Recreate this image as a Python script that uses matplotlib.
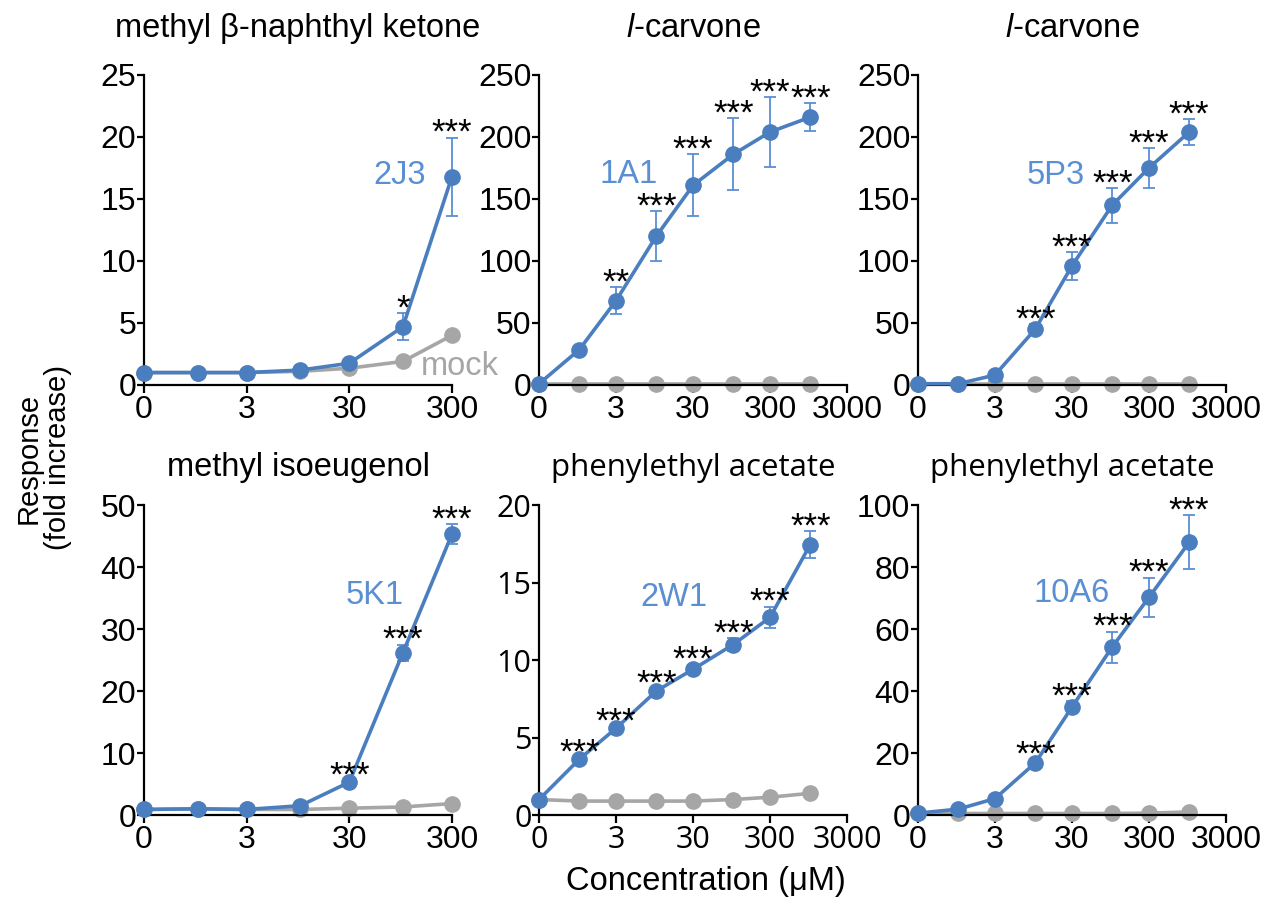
import numpy as np
import matplotlib
matplotlib.use('Agg')
import matplotlib.pyplot as plt

plt.rcParams['font.family'] = ['Liberation Sans', 'DejaVu Sans']
plt.rcParams['mathtext.fontset'] = 'custom'
plt.rcParams['mathtext.rm'] = 'Liberation Sans'
plt.rcParams['mathtext.it'] = 'Liberation Sans:italic'

# concentrations (uM); 0 is drawn one decade below 3
conc = [0, 1, 3, 10, 30, 100, 300, 1000]

titles = ['methyl β-naphthyl ketone', r'$\it{l}$-carvone', r'$\it{l}$-carvone',
          'methyl isoeugenol', 'phenylethyl acetate', 'phenylethyl acetate']
receptors = ['2J3', '1A1', '5P3', '5K1', '2W1', '10A6']
ymax = [25, 250, 250, 50, 20, 100]
ystep = [5, 50, 50, 10, 5, 20]
xmax = [300, 3000, 3000, 300, 3000, 3000]

# receptor responses (fold increase), SEM, mock responses, significance
resp_2j3 = [1.0, 1.0, 1.0, 1.2, 1.75, 4.7, 16.8]
err_2j3 = [0.1, 0.1, 0.1, 0.1, 0.2, 1.1, 3.15]
mock_2j3 = [1.0, 1.0, 1.0, 1.1, 1.35, 1.9, 4.0]
sig_2j3 = ['', '', '', '', '', '*', '***']

resp_1a1 = [1.0, 28.5, 68, 120, 161, 186, 204, 216]
err_1a1 = [0.5, 2, 11, 20, 25, 29, 28, 11.5]
mock_1a1 = [1.0, 1.0, 1.0, 1.0, 1.0, 1.0, 1.0, 1.0]
sig_1a1 = ['', '', '**', '***', '***', '***', '***', '***']

resp_5p3 = [1.0, 1.0, 8, 45, 96, 145, 175, 204]
err_5p3 = [0.5, 0.5, 1, 4, 11, 14, 16, 10.5]
mock_5p3 = [1.0, 1.0, 1.0, 1.0, 1.0, 1.0, 1.0, 1.0]
sig_5p3 = ['', '', '', '***', '***', '***', '***', '***']

resp_5k1 = [0.9, 1.0, 0.9, 1.5, 5.3, 26.2, 45.3]
err_5k1 = [0.1, 0.1, 0.1, 0.1, 0.3, 1.3, 1.6]
mock_5k1 = [0.9, 1.0, 0.9, 0.9, 1.1, 1.3, 1.85]
sig_5k1 = ['', '', '', '', '***', '***', '***']

resp_2w1 = [1.0, 3.6, 5.6, 8.0, 9.4, 11.0, 12.75, 17.45]
err_2w1 = [0.05, 0.1, 0.15, 0.2, 0.3, 0.4, 0.7, 0.85]
mock_2w1 = [1.0, 0.9, 0.9, 0.9, 0.9, 1.0, 1.15, 1.4]
sig_2w1 = ['', '***', '***', '***', '***', '***', '***', '***']

resp_10a6 = [0.6, 1.9, 5.3, 16.8, 34.8, 54.2, 70.2, 88.0]
err_10a6 = [0.2, 0.3, 0.5, 1.2, 2.0, 5.0, 6.4, 8.7]
mock_10a6 = [0.5, 0.5, 0.5, 0.5, 0.5, 0.5, 0.6, 1.0]
sig_10a6 = ['', '', '', '***', '***', '***', '***', '***']

resp = [resp_2j3, resp_1a1, resp_5p3, resp_5k1, resp_2w1, resp_10a6]
errs = [err_2j3, err_1a1, err_5p3, err_5k1, err_2w1, err_10a6]
mock = [mock_2j3, mock_1a1, mock_5p3, mock_5k1, mock_2w1, mock_10a6]
sigs = [sig_2j3, sig_1a1, sig_5p3, sig_5k1, sig_2w1, sig_10a6]

# layout / style
blue = '#4a7ebf'
blue_txt = '#5b8fd3'
gray = '#a6a6a6'
lefts = [0.1124, 0.4208, 0.7166]
bottoms = [0.5713, 0.0924]
W, H = 0.2404, 0.3452
label_pos = [(0.83, 0.675), (0.292, 0.68), (0.447, 0.675),
             (0.748, 0.708), (0.439, 0.703), (0.498, 0.714)]
title_pad = [27, 27, 27, 21, 21, 21]
segoe_like = [False, False, False, False, True, True]

fig = plt.figure(figsize=(12.81, 8.98), dpi=100)

for i in range(6):
    ax = fig.add_axes([lefts[i % 3], bottoms[i // 3], W, H])
    n = len(resp[i])
    x = np.array(conc[:n], dtype=float)
    x[x == 0] = 0.3

    ax.plot(x, mock[i], '-o', color=gray, lw=2.6, ms=11, clip_on=False, zorder=2)
    ax.errorbar(x, resp[i], yerr=errs[i], fmt='none', ecolor=blue_txt,
                elinewidth=1.3, capsize=4, capthick=1.3, clip_on=False, zorder=3)
    ax.plot(x, resp[i], '-o', color=blue, lw=2.6, ms=11, clip_on=False, zorder=4)

    for xi, yi, ei, s in zip(x, resp[i], errs[i], sigs[i]):
        if s:
            ax.annotate(s, (xi, yi + ei), xytext=(0, 3), textcoords='offset points',
                        ha='center', va='center', fontsize=25, zorder=5,
                        annotation_clip=False)

    ax.set_xscale('log')
    ax.set_xlim(0.3, xmax[i])
    ticks = [t for t in [0.3, 3, 30, 300, 3000] if t <= xmax[i]]
    ax.set_xticks(ticks)
    ax.set_xticklabels(['0' if t == 0.3 else str(int(t)) for t in ticks])
    ax.minorticks_off()
    ax.set_ylim(0, ymax[i])
    ax.set_yticks(np.arange(0, ymax[i] + 1, ystep[i]))

    for side in ['top', 'right']:
        ax.spines[side].set_visible(False)
    for side in ['left', 'bottom']:
        ax.spines[side].set_linewidth(1.6)
    ax.tick_params(axis='y', direction='out', length=5, width=1.6, pad=0.5, labelsize=23)
    ax.tick_params(axis='x', direction='out', length=6, width=1.6, pad=1, labelsize=23)

    if segoe_like[i]:
        ax.set_title(titles[i], fontsize=22.5, pad=title_pad[i], family='Open Sans')
        if i == 4:
            for lab in ax.get_xticklabels() + ax.get_yticklabels():
                lab.set_family('Open Sans')
                lab.set_fontsize(22)
    else:
        ax.set_title(titles[i], fontsize=23.5, pad=title_pad[i])

    ax.text(label_pos[i][0], label_pos[i][1], receptors[i], transform=ax.transAxes,
            ha='center', va='center', fontsize=23.5, color=blue_txt)
    if i == 0:
        ax.text(0.9, 0.058, 'mock', transform=ax.transAxes, ha='left', va='center',
                fontsize=23.5, color=gray)

fig.text(0.034, 0.49, 'Response\n(fold increase)', rotation=90, ha='center',
         va='center', fontsize=21, linespacing=1.05)
fig.text(0.551, 0.018, 'Concentration (μM)', ha='center', va='center', fontsize=23.5)

fig.savefig('out.png', dpi=100)
